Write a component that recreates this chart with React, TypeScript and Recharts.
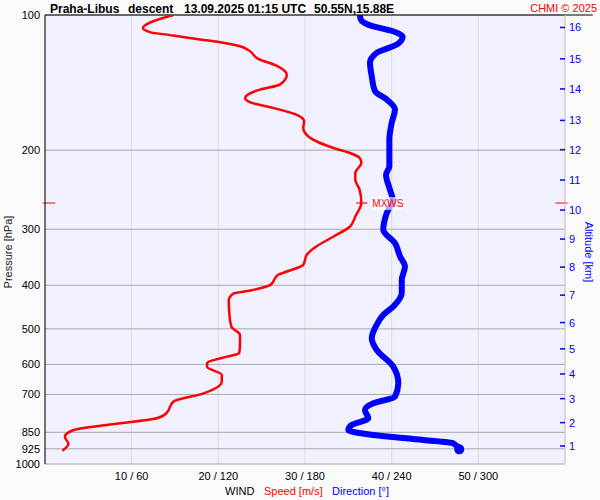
import { ComposedChart, Scatter, XAxis, YAxis, CartesianGrid, ReferenceLine } from "recharts";

// pressure axis (hPa) and its tick labels
const pressureTicks = [100, 200, 300, 400, 500, 600, 700, 850, 925, 1000];

// bottom axis: speed m/s / direction deg
const speedTicks = [10, 20, 30, 40, 50];
const dirTicks = [60, 120, 180, 240, 300];

// altitude ticks (km) and the pressure level each sits at
const altKm = [16, 15, 14, 13, 12, 11, 10, 9, 8, 7, 6, 5, 4, 3, 2, 1];
const altLevels = [106.6, 125.2, 146.1, 171.7, 199.5, 233.1, 271.9, 315.5, 364.3, 420.6, 484.2, 554.1, 630.1, 715.2, 808.9, 912.0];

// wind speed profile
const speedLevels = [
    100, 104, 106.8, 109.2, 111.1, 113.4, 115, 117.4, 119.8, 125.2, 129.6, 135.8, 142.9, 146.6, 153, 156.5,
    161, 166.7, 172.5, 178.5, 187.8, 197.8, 202.9, 208.1, 213.6, 224.8, 232.7, 244.9, 262.3, 281, 295.8,
    311.4, 327.8, 342, 360, 372.7, 379, 399, 410.8, 417.8, 432.4, 469.5, 494.2, 515.7, 541, 566.5, 576.5,
    596.4, 607, 633.4, 655.5, 695.9, 726.5, 770.9, 791, 818.7, 840, 869.4, 902.6, 934.1,
];
const speedMs = [
    14.8, 12.1, 11.3, 12.1, 14.8, 17.9, 20.2, 22.5, 23.5, 24.6, 26.7, 27.9, 27.1, 24.8, 23.1, 23.7,
    26.3, 29.0, 29.9, 29.8, 30.6, 33.3, 35.2, 36.3, 36.5, 35.8, 35.8, 36.3, 36.5, 35.8, 35.2,
    33.3, 31.3, 30.2, 29.8, 27.9, 26.9, 26.0, 23.7, 21.7, 21.2, 21.3, 21.5, 22.5, 22.5, 22.4, 21.0,
    18.7, 18.7, 20.4, 20.4, 18.3, 14.8, 14.0, 12.9, 7.1, 3.3, 2.3, 2.7, 2.0,
];

// wind direction profile
const dirLevels = [
    100, 102.3, 105.5, 108.7, 111.8, 116.4, 121.4, 127.8, 136.9, 147.9, 154.3, 162.4, 174, 189.5, 217.3,
    226.8, 244.9, 257.8, 276.1, 300.8, 322.2, 345, 363.2, 388.9, 416.3, 446, 465.4, 489.9, 524.7, 557,
    607, 660.9, 707.9, 732.5, 758, 791, 818.7, 840, 861.9, 884.3, 899.5, 927.6,
];
const dirDeg = [
    218, 218.6, 225, 241, 247.6, 243.5, 229.6, 225, 226.2, 228.5, 236.6, 242.3, 240, 238.4, 238.4,
    236.1, 238.8, 240.7, 236.6, 234.2, 242.3, 245.8, 249.2, 247, 247, 241.1, 234.2, 229.6, 226.2, 229.6,
    241.1, 244.6, 242.3, 227.3, 221.5, 223.8, 212.3, 210, 227.3, 261.9, 282.7, 286.8,
];

// max wind level
const mxwsLevel = 262.3;
const mxwsSpeed = 36.5;

const speedData = speedLevels.map((p, i) => ({ p, v: speedMs[i] }));
const dirData = dirLevels.map((p, i) => ({ p, d: dirDeg[i] }));
const mxwsData = [{ p: mxwsLevel, v: mxwsSpeed }];

const RED = "#ff0000";
const BLUE = "#0000ff";

const AltTick = (props: any) => {
    const { x, y, payload } = props;
    const km = altKm[altLevels.indexOf(payload.value)];
    return (
        <g>
            <line x1={x - 5} x2={x} y1={y} y2={y} stroke={BLUE} strokeWidth={1.5} />
            <text x={x + 4} y={y} dy={4} fill={BLUE} fontSize={11}>{km}</text>
        </g>
    );
};

const MxwsMark = (props: any) => {
    const { cx, cy } = props;
    return (
        <g>
            <line x1={cx - 5} x2={cx + 6} y1={cy} y2={cy} stroke={RED} strokeWidth={1.2} />
            <rect x={cx + 10} y={cy - 6} width={31} height={13} fill="#ffffff" fillOpacity={0.65} />
            <text x={cx + 11} y={cy} dy={4} fill={RED} fontSize={10}>MXWS</text>
        </g>
    );
};

const EndDot = (props: any) => <circle cx={props.cx} cy={props.cy} r={5} fill={BLUE} />;

export default function App() {
    return (
        <div style={{ position: "absolute", left: 0, top: 0, width: 600, height: 500, background: "#fafafa", fontFamily: "'Liberation Sans', Arial, sans-serif" }}>
            <ComposedChart width={600} height={500} margin={{ top: 15, right: 0, bottom: 0, left: 0 }}>
                <CartesianGrid xAxisId="spd" yAxisId="p" horizontal={false} stroke="#dcdcdc" fill="#f0f0ff" fillOpacity={1} />
                <CartesianGrid xAxisId="spd" yAxisId="p" vertical={false} stroke="#a8a8a8" />

                <XAxis
                    xAxisId="spd"
                    type="number"
                    dataKey="v"
                    domain={[0, 60]}
                    ticks={speedTicks}
                    tickFormatter={(v, i) => `${v} / ${dirTicks[i]}`}
                    tickLine={false}
                    axisLine={false}
                    height={36}
                    tickSize={0}
                    tickMargin={8}
                    tick={{ fill: "#000", fontSize: 11 }}
                />
                <XAxis xAxisId="dir" orientation="top" type="number" dataKey="d" domain={[0, 360]} height={0} hide />

                <YAxis
                    yAxisId="p"
                    type="number"
                    dataKey="p"
                    scale="log"
                    domain={[100, 1000]}
                    allowDataOverflow
                    reversed
                    ticks={pressureTicks}
                    interval={0}
                    width={45}
                    tickLine={false}
                    tickSize={0}
                    tickMargin={5}
                    axisLine={{ stroke: "#000" }}
                    tick={{ fill: "#000", fontSize: 11 }}
                />
                <YAxis
                    yAxisId="alt"
                    orientation="right"
                    type="number"
                    scale="log"
                    domain={[100, 1000]}
                    allowDataOverflow
                    reversed
                    ticks={altLevels}
                    interval={0}
                    width={35}
                    tickLine={false}
                    tickSize={0}
                    tickMargin={0}
                    axisLine={{ stroke: "#c8c8c8" }}
                    tick={<AltTick />}
                />

                <ReferenceLine xAxisId="spd" yAxisId="p" ifOverflow="visible" stroke="#000" segment={[{ x: 0, y: 100 }, { x: 63.2, y: 100 }]} />
                <ReferenceLine xAxisId="spd" yAxisId="p" ifOverflow="visible" stroke={RED} segment={[{ x: -0.25, y: mxwsLevel }, { x: 1.2, y: mxwsLevel }]} />
                <ReferenceLine xAxisId="spd" yAxisId="p" ifOverflow="visible" stroke={RED} segment={[{ x: 58.9, y: mxwsLevel }, { x: 60.3, y: mxwsLevel }]} />

                <Scatter
                    xAxisId="dir"
                    yAxisId="p"
                    data={dirData}
                    shape={() => <g />}
                    line={{ stroke: BLUE, strokeWidth: 6, strokeLinejoin: "round", strokeLinecap: "round" }}
                    lineType="joint"
                    lineJointType="monotoneY"
                    isAnimationActive={false}
                />
                <Scatter xAxisId="dir" yAxisId="p" data={dirData.slice(-1)} shape={<EndDot />} isAnimationActive={false} />
                <Scatter
                    xAxisId="spd"
                    yAxisId="p"
                    data={speedData}
                    shape={() => <g />}
                    line={{ stroke: RED, strokeWidth: 2.5, strokeLinejoin: "round" }}
                    lineType="joint"
                    lineJointType="monotoneY"
                    isAnimationActive={false}
                />
                <Scatter xAxisId="spd" yAxisId="p" data={mxwsData} shape={<MxwsMark />} isAnimationActive={false} />
            </ComposedChart>

            <svg width={600} height={500} style={{ position: "absolute", left: 0, top: 0, pointerEvents: "none" }}>
                <g fontWeight="bold" fontSize={12} fill="#000">
                    <text x={50} y={13}>Praha-Libus</text>
                    <text x={128} y={13}>descent</text>
                    <text x={184} y={13}>13.09.2025 01:15 UTC</text>
                    <text x={314} y={13}>50.55N,15.88E</text>
                </g>
                <text x={597} y={12} textAnchor="end" fontSize={11} fill={RED}>CHMI © 2025</text>
                <text transform="translate(12,252) rotate(-90)" textAnchor="middle" fontSize={11} fill="#222">Pressure [hPa]</text>
                <text transform="translate(585,252) rotate(90)" textAnchor="middle" fontSize={11} fill={BLUE}>Altitude [km]</text>
                <g fontSize={11}>
                    <text x={225} y={495} fill="#000">WIND</text>
                    <text x={264} y={495} fill={RED}>Speed [m/s]</text>
                    <text x={332} y={495} fill={BLUE}>Direction [°]</text>
                </g>
            </svg>
        </div>
    );
}
